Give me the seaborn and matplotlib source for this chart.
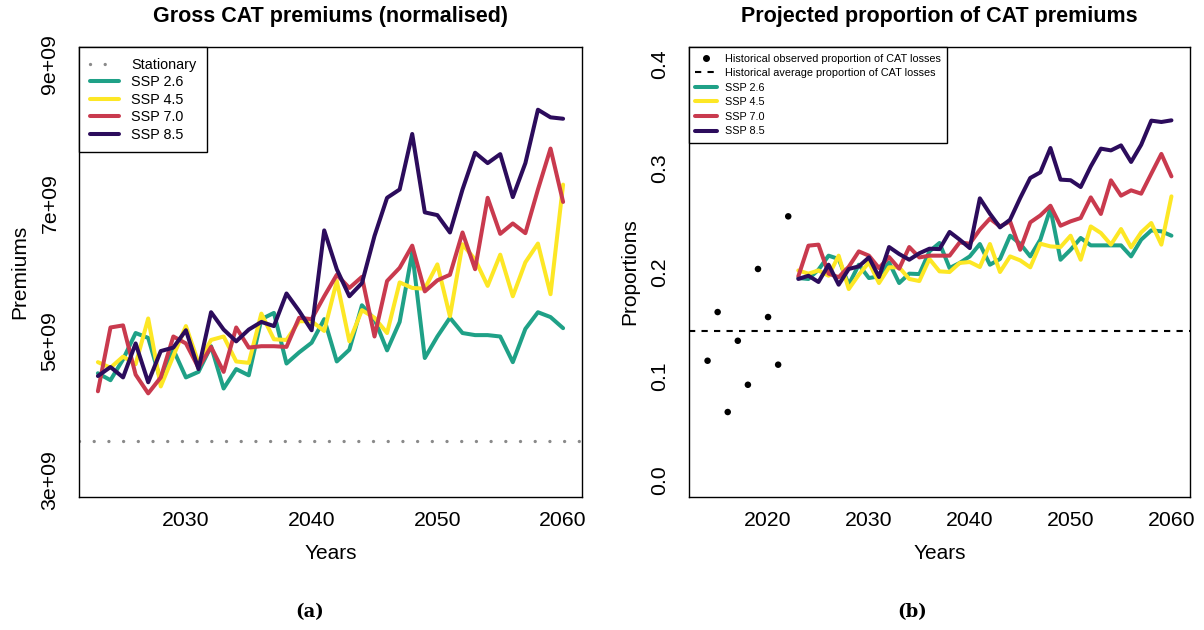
import numpy as np
import pandas as pd
import matplotlib
matplotlib.use("Agg")
import matplotlib.pyplot as plt
from matplotlib.lines import Line2D
import seaborn as sns

# ---------------- data ----------------
years = np.arange(2023, 2061)
scenarios = ["SSP 2.6", "SSP 4.5", "SSP 7.0", "SSP 8.5"]
colours = ["#1fa187", "#fde725", "#c93a4e", "#2c0c5c"]

# Gross CAT premiums (billions, normalised)
prem_ssp26 = [4.54, 4.44, 4.74, 5.12, 5.05, 4.43, 4.88, 4.48, 4.56, 4.93, 4.32, 4.60, 4.51,
              5.32, 5.41, 4.68, 4.84, 4.98, 5.32, 4.71, 4.88, 5.52, 5.32, 4.87, 5.28, 6.28,
              4.76, 5.07, 5.34, 5.12, 5.09, 5.09, 5.07, 4.70, 5.18, 5.42, 5.35, 5.19]
prem_ssp45 = [4.70, 4.62, 4.78, 4.67, 5.33, 4.35, 4.79, 5.22, 4.69, 5.02, 5.07, 4.71, 4.69,
              5.40, 5.03, 5.02, 5.29, 5.29, 5.15, 5.87, 5.00, 5.45, 5.34, 5.12, 5.85, 5.77,
              5.76, 6.11, 5.36, 6.40, 6.18, 5.80, 6.25, 5.65, 6.14, 6.41, 5.68, 7.26]
prem_ssp70 = [4.28, 5.20, 5.23, 4.52, 4.25, 4.48, 5.07, 4.97, 4.62, 4.92, 4.56, 5.20, 4.91,
              4.93, 4.93, 4.92, 5.34, 5.32, 5.65, 5.96, 5.77, 5.93, 5.07, 5.87, 6.06, 6.38,
              5.72, 5.88, 5.96, 6.57, 6.04, 7.07, 6.55, 6.70, 6.56, 7.19, 7.78, 7.01]
prem_ssp85 = [4.50, 4.63, 4.48, 4.97, 4.41, 4.86, 4.91, 5.16, 4.60, 5.42, 5.17, 5.00, 5.17,
              5.28, 5.22, 5.69, 5.44, 5.16, 6.60, 6.04, 5.65, 5.84, 6.52, 7.07, 7.19, 7.99,
              6.86, 6.82, 6.57, 7.19, 7.72, 7.57, 7.70, 7.08, 7.57, 8.34, 8.23, 8.21]
stationary_premium = 3.56e9

# Projected proportion of CAT premiums
prop_ssp26 = [0.1942, 0.1933, 0.2022, 0.2157, 0.2125, 0.1878, 0.2070, 0.1942, 0.1958, 0.2092,
              0.1894, 0.1984, 0.1980, 0.2198, 0.2279, 0.2038, 0.2087, 0.2150, 0.2269, 0.2070,
              0.2125, 0.2349, 0.2272, 0.2150, 0.2311, 0.2609, 0.2118, 0.2214, 0.2327, 0.2256,
              0.2256, 0.2256, 0.2256, 0.2150, 0.2311, 0.2400, 0.2391, 0.2349]
prop_ssp45 = [0.2015, 0.1984, 0.2015, 0.1964, 0.2157, 0.1836, 0.1974, 0.2092, 0.1894, 0.2045,
              0.2045, 0.1933, 0.1913, 0.2125, 0.2006, 0.2000, 0.2087, 0.2096, 0.2048, 0.2269,
              0.2000, 0.2150, 0.2112, 0.2045, 0.2272, 0.2246, 0.2240, 0.2349, 0.2118, 0.2438,
              0.2375, 0.2263, 0.2413, 0.2237, 0.2381, 0.2471, 0.2263, 0.2727]
prop_ssp70 = [0.1958, 0.2253, 0.2263, 0.1984, 0.1950, 0.2050, 0.2198, 0.2157, 0.2038, 0.2144,
              0.2032, 0.2240, 0.2140, 0.2157, 0.2157, 0.2157, 0.2285, 0.2272, 0.2407, 0.2513,
              0.2438, 0.2487, 0.2214, 0.2477, 0.2544, 0.2637, 0.2445, 0.2487, 0.2519, 0.2717,
              0.2558, 0.2881, 0.2734, 0.2785, 0.2753, 0.2945, 0.3135, 0.2919]
prop_ssp85 = [0.1933, 0.1964, 0.1904, 0.2070, 0.1878, 0.2029, 0.2054, 0.2140, 0.1952, 0.2240,
              0.2173, 0.2118, 0.2180, 0.2224, 0.2220, 0.2385, 0.2311, 0.2230, 0.2708, 0.2560,
              0.2429, 0.2503, 0.2711, 0.2904, 0.2958, 0.3192, 0.2888, 0.2882, 0.2817, 0.3015,
              0.3186, 0.3169, 0.3217, 0.3058, 0.3223, 0.3455, 0.3442, 0.3458]

hist_years = np.arange(2014, 2023)
hist_prop = [0.1147, 0.1615, 0.0654, 0.1339, 0.0916, 0.2029, 0.1567, 0.1109, 0.2535]

prem_yticks = [3e9, 4e9, 5e9, 6e9, 7e9, 8e9, 9e9]
prem_yticklabels = ["3e+09", "", "5e+09", "", "7e+09", "", "9e+09"]
prem_xticks = [2030, 2040, 2050, 2060]
prop_yticks = [0.0, 0.1, 0.2, 0.3, 0.4]
prop_yticklabels = ["0.0", "0.1", "0.2", "0.3", "0.4"]
prop_xticks = [2020, 2030, 2040, 2050, 2060]

# ---------------- long-form frames ----------------
prem_df = pd.DataFrame({
    "Year": np.tile(years, 4),
    "Premium": np.concatenate([prem_ssp26, prem_ssp45, prem_ssp70, prem_ssp85]) * 1e9,
    "Scenario": np.repeat(scenarios, len(years)),
})
prop_df = pd.DataFrame({
    "Year": np.tile(years, 4),
    "Proportion": np.concatenate([prop_ssp26, prop_ssp45, prop_ssp70, prop_ssp85]),
    "Scenario": np.repeat(scenarios, len(years)),
})
hist_df = pd.DataFrame({"Year": hist_years, "Proportion": hist_prop})
hist_mean = float(np.mean(hist_prop))

# ---------------- style ----------------
sns.set_style("white")
plt.rcParams["font.family"] = ["Liberation Sans", "DejaVu Sans"]
plt.rcParams["axes.linewidth"] = 1.0
plt.rcParams["axes.edgecolor"] = "black"
plt.rcParams["text.color"] = "black"
plt.rcParams["axes.labelcolor"] = "black"
plt.rcParams["xtick.color"] = "black"
plt.rcParams["ytick.color"] = "black"

palette = dict(zip(scenarios, colours))
LW = 2.9
TICK_FS = 15.3
LAB_FS = 15
TITLE_FS = 15.5

fig = plt.figure(figsize=(12.04, 6.30), dpi=100)
W, H = 1204, 630
ax1 = fig.add_axes([79.3 / W, (H - 496.7) / H, 502.4 / W, 449.4 / H])
ax2 = fig.add_axes([689.0 / W, (H - 496.7) / H, 501.0 / W, 449.4 / H])


def style_axis(ax, xticks, yticks, yticklabels):
    ax.set_xticks(xticks)
    ax.set_xticklabels([str(t) for t in xticks])
    ax.set_yticks(yticks)
    ax.set_yticklabels(yticklabels, rotation=90, va="center")
    ax.tick_params(axis="both", direction="out", length=5.8, width=0.9,
                   colors="black", labelsize=TICK_FS)
    ax.tick_params(axis="x", pad=4.5)
    ax.tick_params(axis="y", pad=8.5)
    for sp in ax.spines.values():
        sp.set_visible(True)
        sp.set_color("black")
        sp.set_linewidth(1.0)
    ax.set_xlabel("Years", fontsize=LAB_FS)
    ax.xaxis.set_label_coords(0.5, -0.105)


# ---------------- left: gross premiums ----------------
ax1.axhline(stationary_premium, color="#8a8a8a", lw=2.4,
            linestyle=(0, (0.01, 4.4)), dash_capstyle="round", zorder=1)
sns.lineplot(data=prem_df, x="Year", y="Premium", hue="Scenario", palette=palette,
             hue_order=scenarios, lw=LW, sort=False, legend=False, ax=ax1, zorder=2)
ax1.set_xlim(2021.52, 2061.48)
ax1.set_ylim(3e9 - 0.24e9, 9e9 + 0.24e9)
style_axis(ax1, prem_xticks, prem_yticks, prem_yticklabels)
ax1.set_ylabel("Premiums", fontsize=LAB_FS)
ax1.yaxis.set_label_coords(-0.100, 0.5)
ax1.set_title("Gross CAT premiums (normalised)", fontsize=TITLE_FS, fontweight="bold",
              pad=18.5, color="black")

h1 = [Line2D([], [], color="#8a8a8a", lw=2.4, linestyle=(0, (0.01, 4.4)),
             dash_capstyle="round")]
h1 += [Line2D([], [], color=c, lw=LW) for c in colours]
leg1 = ax1.legend(h1, ["Stationary"] + scenarios, loc="upper left", fontsize=10.4,
                  frameon=True, fancybox=False, edgecolor="black", framealpha=1,
                  borderaxespad=0, handlelength=2.0, handletextpad=0.85,
                  labelspacing=0.24, borderpad=0.72)
leg1.get_frame().set_linewidth(1.0)

# ---------------- right: proportions ----------------
ax2.axhline(hist_mean, color="black", lw=1.5, linestyle=(0, (3.0, 3.0)), zorder=1)
sns.scatterplot(data=hist_df, x="Year", y="Proportion", color="black", s=22,
                edgecolor="none", ax=ax2, zorder=3)
sns.lineplot(data=prop_df, x="Year", y="Proportion", hue="Scenario", palette=palette,
             hue_order=scenarios, lw=LW, sort=False, legend=False, ax=ax2, zorder=2)
ax2.set_xlim(2012.16, 2061.84)
ax2.set_ylim(-0.016, 0.416)
style_axis(ax2, prop_xticks, prop_yticks, prop_yticklabels)
ax2.set_ylabel("Proportions", fontsize=LAB_FS)
ax2.yaxis.set_label_coords(-0.100, 0.5)
ax2.set_title("Projected proportion of CAT premiums", fontsize=TITLE_FS, fontweight="bold",
              pad=18.5, color="black")

h2 = [Line2D([], [], color="black", marker="o", markersize=4, linestyle="none"),
      Line2D([], [], color="black", lw=1.5, linestyle=(0, (3.0, 3.0)))]
h2 += [Line2D([], [], color=c, lw=LW) for c in colours]
leg2 = ax2.legend(h2, ["Historical observed proportion of CAT losses",
                       "Historical average proportion of CAT losses"] + scenarios,
                  loc="upper left", fontsize=7.8, frameon=True, fancybox=False,
                  edgecolor="black", framealpha=1, borderaxespad=0, handlelength=2.0,
                  handletextpad=0.72, labelspacing=0.42, borderpad=0.58)
leg2.get_frame().set_linewidth(1.0)

# sub-figure captions
fig.text(310 / W, 1 - 612 / H, "(a)", ha="center", va="center", fontsize=13,
         fontweight="bold", family="DejaVu Serif")
fig.text(912 / W, 1 - 612 / H, "(b)", ha="center", va="center", fontsize=13,
         fontweight="bold", family="DejaVu Serif")

fig.savefig("out.png", dpi=100)
